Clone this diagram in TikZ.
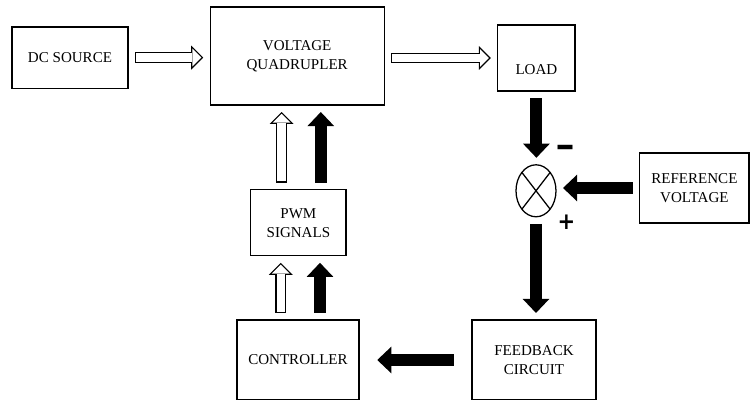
\documentclass[tikz,border=0pt]{standalone}
\usepackage{fontspec}
\setmainfont{Liberation Serif}
\newfontfamily\signfont{DejaVu Sans}
\usetikzlibrary{positioning, arrows.meta, calc, shapes.geometric}

\begin{document}
\begin{tikzpicture}[box/.style={draw,line width=0.9pt,align=center,inner sep=0pt,outer sep=5pt,font=\fontsize{10.7}{13.5}\selectfont},blk/.style={line width=8.5pt,-{Triangle[length=10pt,width=19pt,line width=0pt]}},hol/.style={line width=7.8pt,-{Triangle[length=8.5pt,width=17pt,line width=0pt]},postaction={draw=white,line width=6pt,-{Triangle[length=6.33pt,width=12.66pt,line width=0pt]},shorten >=1.27pt,shorten <=0.9pt}},mixer/.style={ellipse,draw,line width=0.9pt,minimum width=1cm,minimum height=1.3cm,inner sep=0pt,outer sep=5pt,path picture={\draw[line width=0.9pt] (path picture bounding box.north west) -- (path picture bounding box.south east) (path picture bounding box.north east) -- (path picture bounding box.south west);}},sign/.style={font=\signfont\bfseries\fontsize{#1}{#1}\selectfont}]
\useasboundingbox (0,0) rectangle (18.75,10);
\node[box,minimum width=2.9cm,minimum height=1.53cm] (dcsource) at (1.75,8.56) {DC SOURCE};
\node[box,minimum width=4.35cm,minimum height=2.45cm] (quadrupler) at (7.43,8.6) {VOLTAGE\\QUADRUPLER};
\node[box,minimum width=1.93cm,minimum height=1.65cm] (load) at (13.41,8.55) {\strut\\LOAD};
\node[mixer] (mixer) at (13.4,5.23) {};
\node[box,minimum width=2.73cm,minimum height=1.75cm] (refvolt) at (17.36,5.3) {REFERENCE\\VOLTAGE};
\node[box,minimum width=2.38cm,minimum height=1.65cm] (pwm) at (7.46,4.43) {PWM\\SIGNALS};
\node[box,minimum width=3.05cm,minimum height=2cm] (controller) at (7.45,1) {CONTROLLER};
\node[box,minimum width=3.1cm,minimum height=2cm] (feedback) at (13.35,1) {FEEDBACK\\CIRCUIT};
\node[sign=17] (minus) at (14.14,6.18) {\scalebox{1}[1.6]{−}};
\node[sign=15] (plus) at (14.16,4.44) {\scalebox{1}[1.1]{+}};
\draw[hol] (dcsource.east) -- (dcsource.east -| quadrupler.west);
\draw[hol] (load.west -| quadrupler.east) -- (load.west);
\draw[blk] (load.south) -- (load.south |- mixer.north);
\draw[blk] (refvolt.west) -- (refvolt.west -| mixer.east);
\draw[blk] (mixer.south) -- (mixer.south |- feedback.north);
\draw[blk,shorten <=8pt,shorten >=8pt] (feedback.west) -- (controller.east);
\draw[hol] ([xshift=-0.42cm]pwm.north) -- ([xshift=-0.42cm]pwm.north |- quadrupler.south);
\draw[blk] ([xshift=0.56cm]pwm.north) -- ([xshift=0.56cm]pwm.north |- quadrupler.south);
\draw[hol] ([xshift=-0.43cm]controller.north) -- ([xshift=-0.43cm]controller.north |- pwm.south);
\draw[blk] ([xshift=0.55cm]controller.north) -- ([xshift=0.55cm]controller.north |- pwm.south);
\end{tikzpicture}
\end{document}
